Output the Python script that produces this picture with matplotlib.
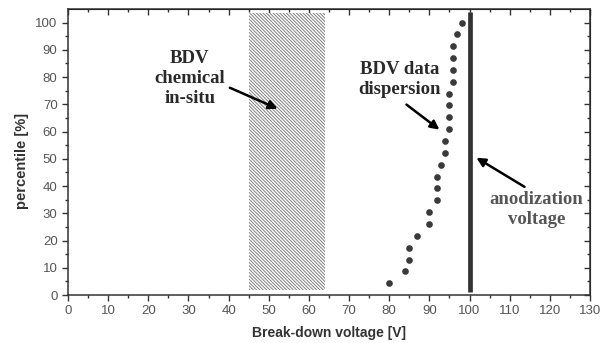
import matplotlib.pyplot as plt
from matplotlib.patches import Rectangle

# BDV data dispersion (percentile vs break-down voltage)
bdv_voltage = [80, 84, 85, 85, 87, 90, 90, 92, 92, 92, 93, 94, 94, 95, 95, 95, 95,
               96, 96, 96, 96, 97, 98]
bdv_percentile = [4.3, 8.7, 13.0, 17.4, 21.7, 26.1, 30.4, 34.8, 39.1, 43.5, 47.8,
                  52.2, 56.5, 60.9, 65.2, 69.6, 73.9, 78.3, 82.6, 87.0, 91.3, 95.7, 100.0]

# chemical in-situ BDV band and anodization voltage
insitu_range = [45, 64]
insitu_pct = [2, 103.5]
anod_voltage = 100
anod_pct = [1, 104]

x_ticks = list(range(0, 131, 10))
y_ticks = list(range(0, 101, 10))

plt.rcParams['font.family'] = ['Liberation Sans', 'DejaVu Sans']
plt.rcParams['hatch.linewidth'] = 0.7
plt.rcParams['hatch.color'] = '#808080'

fig = plt.figure(figsize=(6.01, 3.43), dpi=100)
ax = fig.add_axes([68 / 601, 1 - 295 / 343, 522 / 601, 286 / 343])

ax.add_patch(Rectangle((insitu_range[0], insitu_pct[0]), insitu_range[1] - insitu_range[0],
                       insitu_pct[1] - insitu_pct[0], facecolor='white', edgecolor='#808080',
                       hatch='\\' * 10, linewidth=0))
ax.plot([anod_voltage, anod_voltage], anod_pct, color='#333333', linewidth=3.4, solid_capstyle='butt')
ax.plot(bdv_voltage, bdv_percentile, 'o', color='#3a3a3a', markersize=4.8, markeredgewidth=0)

ax.set_xlim(0, 130)
ax.set_ylim(0, 105)
ax.set_xticks(x_ticks)
ax.set_yticks(y_ticks)
ax.set_xticks(range(5, 130, 10), minor=True)
ax.set_yticks(range(5, 105, 10), minor=True)
ax.tick_params(which='both', direction='out', colors='#333333', labelcolor='#555555',
               labelsize=9.5, width=1)
ax.tick_params(which='major', length=4)
ax.tick_params(which='minor', length=2.5)
for s in ax.spines.values():
    s.set_color('#333333')
    s.set_linewidth(1.1)

# mirrored ticks pointing inward on top and right
top = ax.secondary_xaxis('top')
top.set_xticks(x_ticks)
top.set_xticks(range(5, 130, 10), minor=True)
top.tick_params(which='both', direction='in', labeltop=False, colors='#333333', width=1)
top.tick_params(which='major', length=4)
top.tick_params(which='minor', length=2.5)
right = ax.secondary_yaxis('right')
right.set_yticks(y_ticks)
right.set_yticks(range(5, 105, 10), minor=True)
right.tick_params(which='both', direction='in', labelright=False, colors='#333333', width=1)
right.tick_params(which='major', length=4)
right.tick_params(which='minor', length=2.5)

ax.set_xlabel('Break-down voltage [V]', fontsize=10, fontweight='bold', color='#333333', labelpad=6)
ax.set_ylabel('percentile [%]', fontsize=10.5, fontweight='bold', color='#333333')
ax.yaxis.set_label_coords(-0.074, 0.47)

serif = dict(family='Liberation Serif', fontweight='bold', fontsize=13.5, ha='center',
             va='center', linespacing=1.25)
ax.text(30.3, 79.5, 'BDV\nchemical\nin-situ', color='#2a2a2a', **serif)
ax.text(82.5, 79, 'BDV data\ndispersion', color='#2a2a2a', **serif)
ax.text(116.7, 31.5, 'anodization\nvoltage', color='#555555', **serif)

arrow = dict(arrowstyle='-|>', color='black', lw=1.8, mutation_scale=13, shrinkA=0, shrinkB=0)
ax.annotate('', xy=(52.2, 68.4), xytext=(40.3, 76.1), arrowprops=arrow)
ax.annotate('', xy=(92.5, 60.7), xytext=(84.3, 69.9), arrowprops=arrow)
ax.annotate('', xy=(101.7, 50.4), xytext=(113.7, 39.7), arrowprops=arrow)

fig.savefig('out.png', dpi=100)
